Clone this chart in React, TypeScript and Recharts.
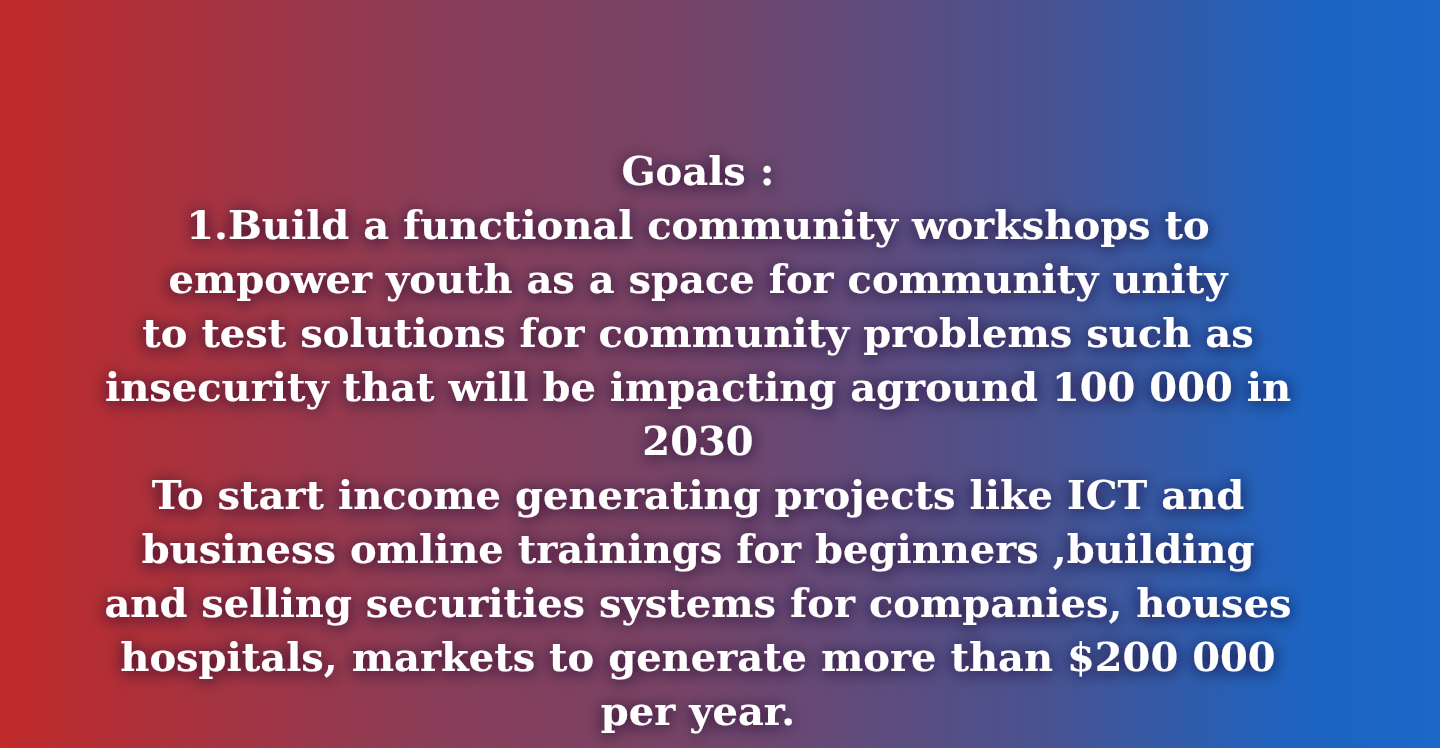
import React from 'react';
import { ComposedChart, Customized } from 'recharts';

const lines: string[] = [
  'Goals :',
  '1.Build a functional community workshops to',
  'empower youth as a space for community unity',
  'to test solutions for community problems such as',
  'insecurity that will be impacting aground 100 000 in',
  '2030',
  'To start income generating projects like ICT and',
  'business omline trainings for beginners ,building',
  'and selling securities systems for companies, houses',
  'hospitals, markets to generate more than $200 000',
  'per year.',
];

const W = 1440;
const H = 748;

const TextBlock = () => (
  <g>
    <defs>
      <filter id="glow" x="-10%" y="-50%" width="120%" height="200%">
        <feDropShadow dx="0" dy="2" stdDeviation="8" floodColor="#150c2a" floodOpacity="0.85" />
      </filter>
    </defs>
    {lines.map((t, i) => (
      <text
        key={i}
        x={698}
        y={185 + i * 54}
        textAnchor="middle"
        fill="#ffffff"
        fontFamily="'DejaVu Serif', serif"
        fontWeight="bold"
        fontSize={40}
        filter="url(#glow)"
      >
        {t}
      </text>
    ))}
  </g>
);

export default function App() {
  return (
    <div
      style={{
        position: 'fixed',
        left: 0,
        top: 0,
        width: W,
        height: H,
        overflow: 'hidden',
        background: 'linear-gradient(90deg, #c02a2a 0%, #8a3d58 30%, #764468 48%, #4a5290 72%, #1e63c0 90%, #1a68c8 100%)',
      }}
    >
      <ComposedChart width={W} height={H} data={[]} margin={{ top: 0, right: 0, bottom: 0, left: 0 }}>
        <Customized component={TextBlock} />
      </ComposedChart>
    </div>
  );
}
